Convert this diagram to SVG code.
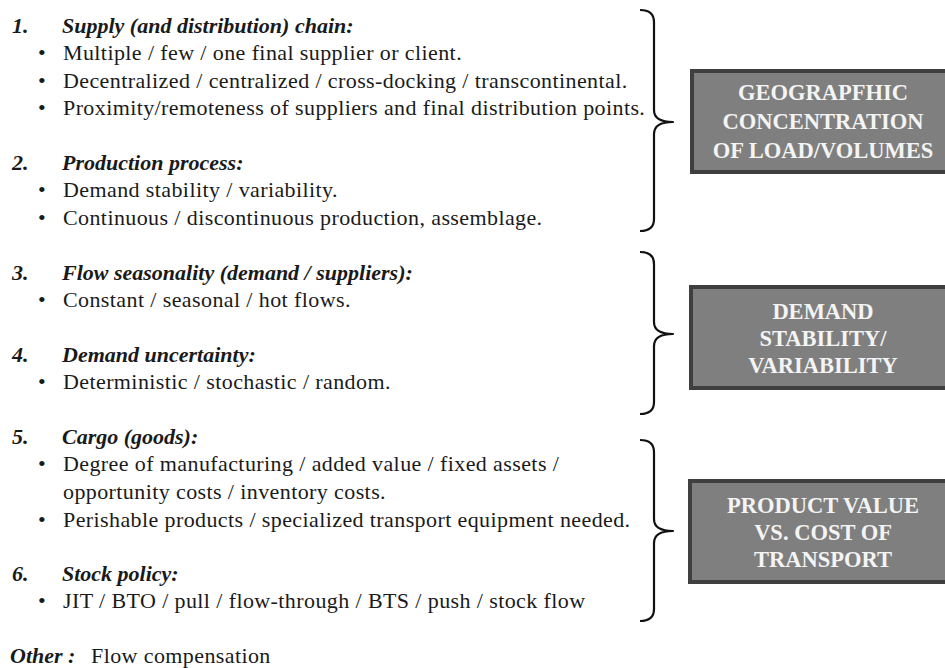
<svg xmlns="http://www.w3.org/2000/svg" width="945" height="668" viewBox="0 0 945 668" font-family="'Liberation Serif', 'Times New Roman', 'DejaVu Serif', serif">
  <style>
    .t { font-size: 22px; fill: #1a1a1a; letter-spacing: 0.4px; }
    .h { font-size: 22px; font-weight: bold; font-style: italic; fill: #1a1a1a; }
    .brace { fill: none; stroke: #111; stroke-width: 2.2; stroke-linejoin: round; }
    .box rect { fill: #7f7f7f; stroke: #3f3f3f; stroke-width: 4; }
    .box text { font-size: 22.5px; font-weight: bold; fill: #f4f4f4; text-anchor: middle; }
  </style>

  <rect width="945" height="668" fill="#ffffff"/>

  <!-- criteria list -->
  <g id="list">
    <g id="item1">
      <text class="h" x="12" y="33">1.</text>
      <text class="h" x="62" y="33">Supply (and distribution) chain:</text>
      <text class="t" x="38" y="60.4">•</text><text class="t" x="63" y="60.4">Multiple / few / one final supplier or client.</text>
      <text class="t" x="38" y="87.8">•</text><text class="t" x="63" y="87.8">Decentralized / centralized / cross-docking / transcontinental.</text>
      <text class="t" x="38" y="115.2">•</text><text class="t" x="63" y="115.2">Proximity/remoteness of suppliers and final distribution points.</text>
    </g>
    <g id="item2">
      <text class="h" x="12" y="170">2.</text>
      <text class="h" x="62" y="170">Production process:</text>
      <text class="t" x="38" y="197.4">•</text><text class="t" x="63" y="197.4">Demand stability / variability.</text>
      <text class="t" x="38" y="224.8">•</text><text class="t" x="63" y="224.8">Continuous / discontinuous production, assemblage.</text>
    </g>
    <g id="item3">
      <text class="h" x="12" y="279.6">3.</text>
      <text class="h" x="62" y="279.6">Flow seasonality (demand / suppliers):</text>
      <text class="t" x="38" y="307">•</text><text class="t" x="63" y="307">Constant / seasonal / hot flows.</text>
    </g>
    <g id="item4">
      <text class="h" x="12" y="361.8">4.</text>
      <text class="h" x="62" y="361.8">Demand uncertainty:</text>
      <text class="t" x="38" y="389.2">•</text><text class="t" x="63" y="389.2">Deterministic / stochastic / random.</text>
    </g>
    <g id="item5">
      <text class="h" x="12" y="444">5.</text>
      <text class="h" x="62" y="444">Cargo (goods):</text>
      <text class="t" x="38" y="471.4">•</text><text class="t" x="63" y="471.4">Degree of manufacturing / added value / fixed assets /</text>
      <text class="t" x="63" y="498.8">opportunity costs / inventory costs.</text>
      <text class="t" x="38" y="527">•</text><text class="t" x="63" y="527">Perishable products / specialized transport equipment needed.</text>
    </g>
    <g id="item6">
      <text class="h" x="12" y="581">6.</text>
      <text class="h" x="62" y="581">Stock policy:</text>
      <text class="t" x="38" y="608.4">•</text><text class="t" x="63" y="608.4">JIT / BTO / pull / flow-through / BTS / push / stock flow</text>
    </g>
    <g id="other">
      <text class="h" x="10" y="663">Other :</text>
      <text class="t" x="91" y="663">Flow compensation</text>
    </g>
  </g>

  <!-- braces grouping the criteria -->
  <g id="connectors">
    <path class="brace" d="M640,10 Q654,10 654,22 L654,110 Q654,122 673,122 Q654,122 654,134 L654,219 Q654,231 640,231"/>
    <path class="brace" d="M640,252 Q654,252 654,264 L654,322 Q654,334 673,334 Q654,334 654,346 L654,402 Q654,414 640,414"/>
    <path class="brace" d="M640,440 Q654,440 654,452 L654,519 Q654,531 673,531 Q654,531 654,543 L654,609 Q654,621 640,621"/>
  </g>

  <!-- category boxes -->
  <g id="geo" class="box">
    <rect x="692" y="71" width="262" height="101"/>
    <text x="823" y="100">GEOGRAPFHIC</text>
    <text x="823" y="129">CONCENTRATION</text>
    <text x="823" y="158">OF LOAD/VOLUMES</text>
  </g>
  <g id="demand" class="box">
    <rect x="691" y="287" width="262" height="101"/>
    <text x="823" y="319">DEMAND</text>
    <text x="823" y="346">STABILITY/</text>
    <text x="823" y="373">VARIABILITY</text>
  </g>
  <g id="value" class="box">
    <rect x="690" y="481" width="262" height="101"/>
    <text x="823" y="513">PRODUCT VALUE</text>
    <text x="823" y="540">VS. COST OF</text>
    <text x="823" y="567">TRANSPORT</text>
  </g>
</svg>
